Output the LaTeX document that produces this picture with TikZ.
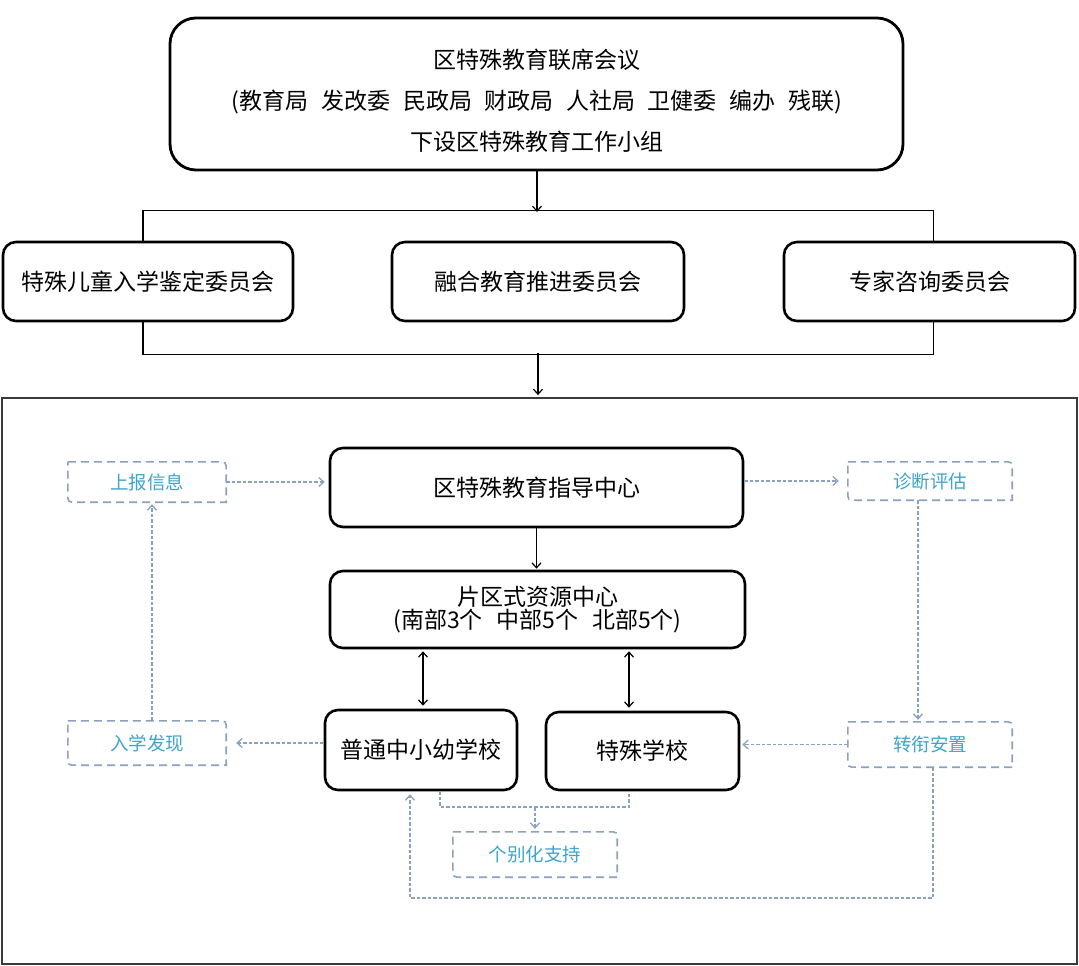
\documentclass[tikz,border=0pt]{standalone}
\usepackage{fontspec}
\setmainfont{Noto Sans CJK SC}
\usetikzlibrary{arrows.meta,calc}
\definecolor{dline}{HTML}{8AA2BE}
\definecolor{dtext}{HTML}{3DA5CC}
\definecolor{framec}{HTML}{3A3A3A}
\begin{document}
\begin{tikzpicture}[x=1pt,y=-1pt,
  bigbox/.style={draw=black, line width=2.8pt, rounded corners=26pt, minimum width=733pt, minimum height=152pt, inner sep=0pt},
  solidbox/.style={draw=black, line width=2.6pt, rounded corners=13pt, inner sep=0pt, align=center,
     font=\fontsize{23}{26}\selectfont},
  dashnode/.style={inner sep=0pt, text=dtext, font=\fontsize{18.5}{21}\selectfont},
  dboxline/.style={draw=dline, line width=1.6pt, dash pattern=on 8pt off 5pt},
  conn/.style={draw=black, line width=1.2pt},
  arr/.style={conn, -{Straight Barb[length=5pt,width=9pt]}},
  darr/.style={conn, {Straight Barb[length=5pt,width=9pt]}-{Straight Barb[length=5pt,width=9pt]}},
  dconn/.style={draw=dline, line width=1.3pt, dash pattern=on 3.5pt off 2pt},
  dar/.style={dconn, -{Straight Barb[length=5pt,width=9pt]}},
]
\useasboundingbox (0,0) rectangle (1079,966);
\fill[white] (0,0) rectangle (1079,966);

% top
\node[bigbox] (top) at (536.5,94) {};
\node[align=center, font=\fontsize{23}{41}\selectfont, inner sep=0pt] (toptxt) at (537,101)
 {区特殊教育联席会议\\
  (教育局\hspace{0.55em}发改委\hspace{0.55em}民政局\hspace{0.55em}财政局\hspace{0.55em}人社局\hspace{0.55em}卫健委\hspace{0.55em}编办\hspace{0.55em}残联)\\
  下设区特殊教育工作小组};

% committees
\node[solidbox, minimum width=290pt, minimum height=79pt] (L) at (148,281.5) {特殊儿童入学鉴定委员会};
\node[solidbox, minimum width=292pt, minimum height=79pt] (M) at (538,281.5) {融合教育推进委员会};
\node[solidbox, minimum width=291pt, minimum height=79pt] (R) at (929.5,281.5) {专家咨询委员会};

\coordinate (bt) at (537,212);
\coordinate (bb) at (538,353);
\draw[conn] ([xshift=-5pt]L.north) -- ++(0,-30) -| ([xshift=4pt]R.north);
\draw[conn] ([xshift=-5pt]L.south) -- ++(0,32) -| ([xshift=4pt]R.south);
\draw[arr] (top.south -| bt) -- (bt);

% frame
\node[draw=framec, line width=1.8pt, minimum width=1075pt, minimum height=566pt, inner sep=0pt] (frame) at (539.5,681) {};
\draw[arr] (bb) -- ([yshift=2pt]frame.north -| bb);

% inner solid boxes
\node[solidbox, minimum width=413pt, minimum height=79pt] (G) at (536.5,487.5) {区特殊教育指导中心};
\node[solidbox, minimum width=415pt, minimum height=77pt, font=\fontsize{23}{23}\selectfont] (P) at (537.5,609.5) {片区式资源中心\\(南部3个\hspace{0.6em}中部5个\hspace{0.6em}北部5个)};
\node[solidbox, minimum width=192pt, minimum height=80pt] (S1) at (421,750) {普通中小幼学校};
\node[solidbox, minimum width=193pt, minimum height=78pt] (S2) at (642.5,751) {特殊学校};

\draw[arr] (G.south) -- ([yshift=1pt]G.south |- P.north);
\draw[darr, shorten <=2pt, shorten >=3pt] ([xshift=2pt]S1.north |- P.south) -- ([xshift=2pt]S1.north);
\draw[darr, shorten <=2pt, shorten >=3pt] ([xshift=-13.5pt]S2.north |- P.south) -- ([xshift=-13.5pt]S2.north);

% dashed boxes
\node[dashnode, minimum width=158pt, minimum height=40pt] (A) at (147,482) {上报信息};
\node[dashnode, minimum width=164pt, minimum height=38pt] (B) at (930,481) {诊断评估};
\node[dashnode, minimum width=158pt, minimum height=44pt] (C) at (147,743) {入学发现};
\node[dashnode, minimum width=164pt, minimum height=45pt] (D) at (930,744.5) {转衔安置};
\node[dashnode, minimum width=164pt, minimum height=45pt] (E) at (535,854.5) {个别化支持};
\foreach \n in {A,B,C,D,E}{
  \draw[dboxline] (\n.north west) -- ([xshift=-9pt]\n.north east) .. controls (\n.north east) .. ([yshift=-9pt]\n.north east)
    -- (\n.south east) -- ([xshift=9pt]\n.south west) .. controls (\n.south west) .. ([yshift=9pt]\n.south west) -- cycle;
}

% dashed connectors
\draw[dar, shorten >=4pt] (A.east) -- (A.east -| G.west);
\draw[dar, shorten >=9pt] (G.east |- B.west) -- (B.west);
\draw[dar, shorten >=2pt] ([xshift=-12pt]B.south) -- ([xshift=-12pt]D.north);
\draw[dar, shorten >=2pt] (D.west) -- (D.west -| S2.east);
\draw[dar, shorten >=10pt] (S1.west |- C.east) -- (C.east);
\draw[dar, shorten >=2pt] ([xshift=5pt]C.north) -- ([xshift=5pt]A.south);
\coordinate (m) at (535,807);
\coordinate (q) at (410,898);
\draw[dconn] ([xshift=19pt]S1.south) |- (m) -| ([xshift=-13.5pt]S2.south);
\draw[dar, shorten >=3pt] (m) -- (E.north);
\draw[dar, shorten >=3pt] ([xshift=3pt]D.south) |- (q) -- (q |- S1.south);
\end{tikzpicture}
\end{document}
